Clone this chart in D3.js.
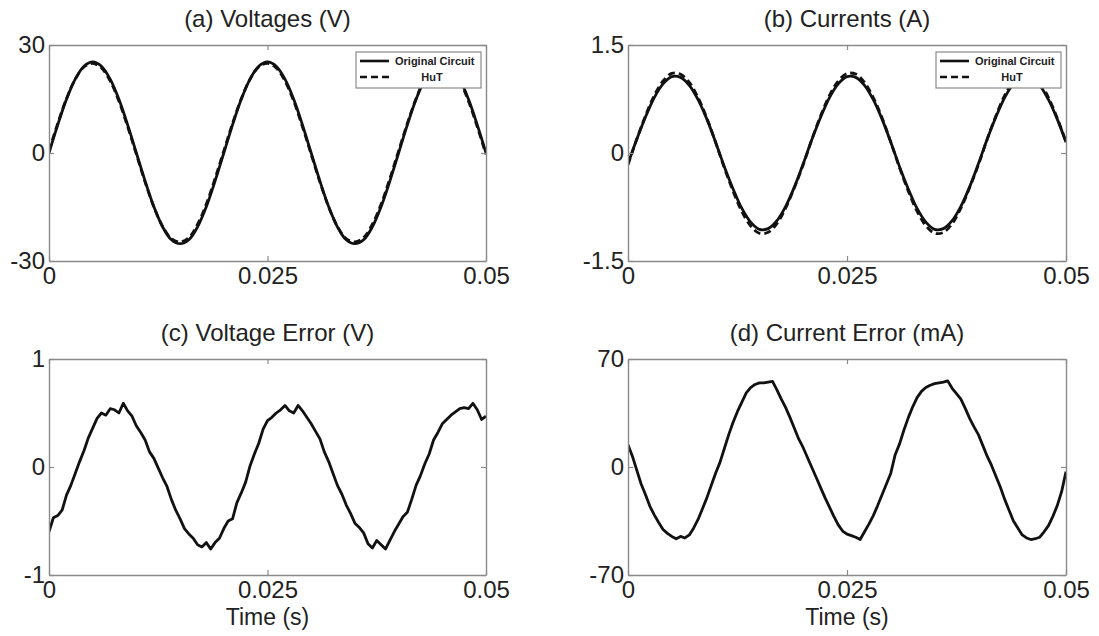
<!DOCTYPE html>
<html>
<head>
<meta charset="utf-8">
<script src="https://cdn.jsdelivr.net/npm/d3@7"></script>
<style>
  html, body { margin: 0; padding: 0; background: #fff; }
  svg { display: block; font-family: "Liberation Sans", Arial, Helvetica, sans-serif; }
</style>
</head>
<body>
<svg id="fig" width="1099" height="636"></svg>
<script>
// ---- sample times (s) ----
const tCoarse = [0, 0.001, 0.002, 0.003, 0.004, 0.005, 0.006, 0.007, 0.008, 0.009,
  0.010, 0.011, 0.012, 0.013, 0.014, 0.015, 0.016, 0.017, 0.018, 0.019,
  0.020, 0.021, 0.022, 0.023, 0.024, 0.025, 0.026, 0.027, 0.028, 0.029,
  0.030, 0.031, 0.032, 0.033, 0.034, 0.035, 0.036, 0.037, 0.038, 0.039,
  0.040, 0.041, 0.042, 0.043, 0.044, 0.045, 0.046, 0.047, 0.048, 0.049, 0.050];

const tFine = [0, 0.0005, 0.0010, 0.0015, 0.0020, 0.0025, 0.0030, 0.0035, 0.0040, 0.0045,
  0.0050, 0.0055, 0.0060, 0.0065, 0.0070, 0.0075, 0.0080, 0.0085, 0.0090, 0.0095,
  0.0100, 0.0105, 0.0110, 0.0115, 0.0120, 0.0125, 0.0130, 0.0135, 0.0140, 0.0145,
  0.0150, 0.0155, 0.0160, 0.0165, 0.0170, 0.0175, 0.0180, 0.0185, 0.0190, 0.0195,
  0.0200, 0.0205, 0.0210, 0.0215, 0.0220, 0.0225, 0.0230, 0.0235, 0.0240, 0.0245,
  0.0250, 0.0255, 0.0260, 0.0265, 0.0270, 0.0275, 0.0280, 0.0285, 0.0290, 0.0295,
  0.0300, 0.0305, 0.0310, 0.0315, 0.0320, 0.0325, 0.0330, 0.0335, 0.0340, 0.0345,
  0.0350, 0.0355, 0.0360, 0.0365, 0.0370, 0.0375, 0.0380, 0.0385, 0.0390, 0.0395,
  0.0400, 0.0405, 0.0410, 0.0415, 0.0420, 0.0425, 0.0430, 0.0435, 0.0440, 0.0445,
  0.0450, 0.0455, 0.0460, 0.0465, 0.0470, 0.0475, 0.0480, 0.0485, 0.0490, 0.0495, 0.0500];

// ---- (a) voltages, V ----
const voltOriginal = [0, 7.8, 14.9, 20.5, 24.1, 25.3, 24.1, 20.5, 14.9, 7.8,
  0, -7.8, -14.9, -20.5, -24.1, -25.2, -24.1, -20.5, -14.9, -7.8,
  0, 7.8, 14.9, 20.5, 24.1, 25.3, 24.1, 20.5, 14.9, 7.8,
  0, -7.8, -14.9, -20.5, -24.1, -25.2, -24.1, -20.5, -14.9, -7.8,
  0, 7.8, 14.9, 20.5, 24.1, 25.3, 24.1, 20.5, 14.9, 7.8, 0];
const voltHuT = [0.6, 8.2, 15.1, 20.5, 23.9, 24.9, 23.6, 20.0, 14.4, 7.3,
  -0.4, -8.1, -15.0, -20.4, -23.8, -24.7, -23.5, -19.8, -14.2, -7.1,
  0.6, 8.2, 15.1, 20.5, 23.9, 24.9, 23.6, 20.0, 14.4, 7.3,
  -0.4, -8.1, -15.0, -20.4, -23.8, -24.7, -23.5, -19.8, -14.2, -7.1,
  0.6, 8.2, 15.1, 20.5, 23.9, 24.9, 23.6, 20.0, 14.4, 7.3, -0.4];

// ---- (b) currents, A ----
const currOriginal = [-0.15, 0.19, 0.50, 0.77, 0.96, 1.06, 1.05, 0.94, 0.74, 0.47,
  0.15, -0.19, -0.50, -0.77, -0.96, -1.06, -1.05, -0.94, -0.74, -0.47,
  -0.15, 0.19, 0.50, 0.77, 0.96, 1.06, 1.05, 0.94, 0.74, 0.47,
  0.15, -0.19, -0.50, -0.77, -0.96, -1.06, -1.05, -0.94, -0.74, -0.47,
  -0.15, 0.19, 0.50, 0.77, 0.96, 1.06, 1.05, 0.94, 0.74, 0.47, 0.15];
const currHuT = [-0.165, 0.192, 0.518, 0.80, 1.00, 1.106, 1.095, 0.98, 0.77, 0.486,
  0.148, -0.207, -0.532, -0.814, -1.012, -1.115, -1.102, -0.98, -0.765, -0.478,
  -0.162, 0.192, 0.52, 0.80, 1.00, 1.104, 1.096, 0.98, 0.77, 0.49,
  0.15, -0.205, -0.53, -0.812, -1.01, -1.114, -1.104, -0.982, -0.766, -0.48,
  -0.165, 0.19, 0.518, 0.80, 1.00, 1.106, 1.095, 0.98, 0.77, 0.486, 0.153];

// ---- (c) voltage error, V ----
const voltError = [-0.60, -0.47, -0.45, -0.40, -0.26, -0.17, -0.06, 0.05, 0.15, 0.27,
  0.36, 0.45, 0.50, 0.48, 0.54, 0.53, 0.50, 0.59, 0.52, 0.47,
  0.38, 0.32, 0.25, 0.14, 0.08, -0.01, -0.10, -0.18, -0.30, -0.40,
  -0.48, -0.57, -0.62, -0.66, -0.72, -0.74, -0.70, -0.76, -0.70, -0.66,
  -0.57, -0.50, -0.48, -0.33, -0.24, -0.14, 0.01, 0.12, 0.22, 0.35,
  0.43, 0.46, 0.50, 0.53, 0.57, 0.52, 0.50, 0.57, 0.52, 0.46,
  0.40, 0.33, 0.26, 0.14, 0.05, -0.06, -0.17, -0.25, -0.35, -0.43,
  -0.52, -0.56, -0.61, -0.71, -0.75, -0.68, -0.72, -0.76, -0.68, -0.60,
  -0.53, -0.46, -0.42, -0.30, -0.17, -0.08, 0.03, 0.12, 0.25, 0.32,
  0.40, 0.44, 0.48, 0.51, 0.54, 0.55, 0.54, 0.59, 0.53, 0.44, 0.47];

// ---- (d) current error, mA ----
const currError = [14.5, 7, -2, -11, -18, -25.5, -31, -36, -40.5, -43,
  -45, -46.5, -45, -46, -44, -39.5, -34, -27, -20, -12,
  -4, 3, 12, 21, 29, 36, 42, 48, 51.5, 53.5,
  54.5, 54.5, 55, 55.5, 50, 44, 38.5, 32, 25, 18,
  12.5, 6, -0.5, -7, -13.5, -20, -26, -32, -37.5, -41.5,
  -43.5, -44.5, -45.5, -47, -42, -37, -31.5, -25, -18, -11,
  -4, 8, 15, 24, 32, 39, 45, 49, 51.5, 53,
  54, 54.5, 55, 55.8, 51, 47.5, 44, 38, 31.5, 26,
  21, 14, 7, 1, -6, -13, -21, -28, -35, -39.5,
  -44, -46, -47, -46.5, -45.5, -42, -38, -32, -25, -16, -3];

// ---- axis ticks ----
const xTicks = [0, 0.025, 0.05];
const xTickLabels = ["0", "0.025", "0.05"];
const yTicksA = [-30, 0, 30];
const yLabelsA = ["-30", "0", "30"];
const yTicksB = [-1.5, 0, 1.5];
const yLabelsB = ["-1.5", "0", "1.5"];
const yTicksC = [-1, 0, 1];
const yLabelsC = ["-1", "0", "1"];
const yTicksD = [-70, 0, 70];
const yLabelsD = ["-70", "0", "70"];

const titles = ["(a) Voltages (V)", "(b) Currents (A)", "(c) Voltage Error (V)", "(d) Current Error (mA)"];
const legendNames = ["Original Circuit", "HuT"];
const xAxisTitle = "Time (s)";

// ---- drawing ----
const svg = d3.select("#fig");
const FONT = 24;
const BOX = "#8a8a8a";
const INK = "#111";
const TXT = "#222";

function drawPanel(id, frame, title, yTicks, yLabels, series, showLegend, showXTitle) {
  const x = d3.scaleLinear().domain([0, 0.05]).range([frame.x0, frame.x1]);
  const y = d3.scaleLinear().domain([yTicks[0], yTicks[2]]).range([frame.y1, frame.y0]);
  const g = svg.append("g");

  g.append("clipPath").attr("id", "clip-" + id)
    .append("rect")
    .attr("x", frame.x0).attr("y", frame.y0)
    .attr("width", frame.x1 - frame.x0).attr("height", frame.y1 - frame.y0);

  const plot = g.append("g").attr("clip-path", `url(#clip-${id})`);
  series.forEach(s => {
    const line = d3.line()
      .x((d, i) => x(s.t[i]))
      .y(d => y(d))
      .curve(s.smooth ? d3.curveCatmullRom : d3.curveLinear);
    plot.append("path")
      .datum(s.v)
      .attr("d", line)
      .attr("fill", "none")
      .attr("stroke", INK)
      .attr("stroke-width", 2.8)
      .attr("stroke-linejoin", "round")
      .attr("stroke-dasharray", s.dash ? "7,4" : null);
  });

  function styleAxis(sel) {
    sel.attr("font-family", null).attr("font-size", null);
    sel.select(".domain").attr("stroke", BOX).attr("stroke-width", 1.4);
    sel.selectAll(".tick line").attr("stroke", BOX).attr("stroke-width", 1.2);
    sel.selectAll(".tick text").attr("fill", TXT).style("font-size", FONT + "px");
  }

  g.append("g").attr("transform", `translate(0,${frame.y1})`)
    .call(d3.axisBottom(x).tickValues(xTicks).tickFormat((d, i) => xTickLabels[i])
      .tickSizeInner(-5).tickSizeOuter(0).tickPadding(6))
    .call(styleAxis);
  g.append("g").attr("transform", `translate(0,${frame.y0})`)
    .call(d3.axisTop(x).tickValues(xTicks).tickFormat("")
      .tickSizeInner(-5).tickSizeOuter(0))
    .call(styleAxis);
  g.append("g").attr("transform", `translate(${frame.x0},0)`)
    .call(d3.axisLeft(y).tickValues(yTicks).tickFormat((d, i) => yLabels[i])
      .tickSizeInner(-5).tickSizeOuter(0).tickPadding(4))
    .call(styleAxis);
  g.append("g").attr("transform", `translate(${frame.x1},0)`)
    .call(d3.axisRight(y).tickValues(yTicks).tickFormat("")
      .tickSizeInner(-5).tickSizeOuter(0))
    .call(styleAxis);

  g.append("text")
    .attr("x", (frame.x0 + frame.x1) / 2)
    .attr("y", frame.y0 - 18)
    .attr("text-anchor", "middle")
    .attr("fill", TXT)
    .style("font-size", FONT + "px")
    .text(title);

  if (showXTitle) {
    g.append("text")
      .attr("x", (frame.x0 + frame.x1) / 2)
      .attr("y", frame.y1 + 50)
      .attr("text-anchor", "middle")
      .attr("fill", TXT)
      .style("font-size", "23px")
      .text(xAxisTitle);
  }

  if (showLegend) {
    const lw = 125, lh = 36;
    const lx = frame.x1 - 5 - lw, ly = frame.y0 + 7;
    const lg = g.append("g").attr("transform", `translate(${lx},${ly})`);
    lg.append("rect").attr("width", lw).attr("height", lh)
      .attr("fill", "#fff").attr("stroke", BOX).attr("stroke-width", 1.2);
    [0, 1].forEach(k => {
      const yy = 9 + k * 16;
      lg.append("line")
        .attr("x1", 4).attr("x2", 33).attr("y1", yy).attr("y2", yy)
        .attr("stroke", INK).attr("stroke-width", 2.6)
        .attr("stroke-dasharray", k === 1 ? "7,4" : null);
      lg.append("text")
        .attr("x", k === 0 ? 39 : 76)
        .attr("y", yy + 4)
        .attr("text-anchor", k === 0 ? "start" : "middle")
        .attr("fill", TXT)
        .style("font-size", "11px")
        .style("font-weight", "bold")
        .text(legendNames[k]);
    });
  }
}

drawPanel("a", { x0: 49, x1: 486, y0: 45, y1: 261 }, titles[0], yTicksA, yLabelsA,
  [{ t: tCoarse, v: voltOriginal, smooth: true }, { t: tCoarse, v: voltHuT, smooth: true, dash: true }],
  true, false);
drawPanel("b", { x0: 628, x1: 1066, y0: 45, y1: 261 }, titles[1], yTicksB, yLabelsB,
  [{ t: tCoarse, v: currOriginal, smooth: true }, { t: tCoarse, v: currHuT, smooth: true, dash: true }],
  true, false);
drawPanel("c", { x0: 49, x1: 486, y0: 359, y1: 575 }, titles[2], yTicksC, yLabelsC,
  [{ t: tFine, v: voltError }], false, true);
drawPanel("d", { x0: 628, x1: 1066, y0: 359, y1: 575 }, titles[3], yTicksD, yLabelsD,
  [{ t: tFine, v: currError }], false, true);
</script>
</body>
</html>
